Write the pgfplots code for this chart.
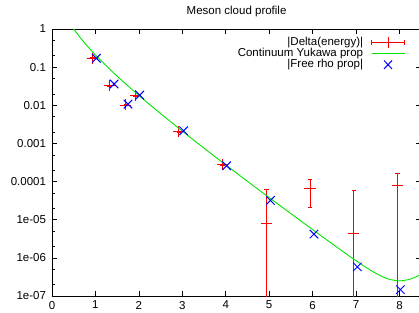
\documentclass[border=0pt]{standalone}
\usepackage{pgfplots}
\pgfplotsset{compat=1.18}
\usepackage{pgfplotstable}
\usepackage{fontspec}
\setmainfont{Liberation Sans}
\definecolor{gpred}{rgb}{1,0,0}
\definecolor{gpgreen}{RGB}{0,230,0}
\definecolor{gpblue}{rgb}{0,0,1}

\pgfplotstableread{
x     y
1.02  0.171
1.43  0.036
1.75  0.0107
2.02  0.0184
3.03  0.00214
4.02  2.6e-4
5.03  3.2e-5
6.03  4.2e-6
7.03  5.8e-7
8.02  1.47e-7
}\freetab

\pgfplotstableread{
x     y
0.45  1.216
0.50  1.002
0.60  0.7012
0.70  0.5046
0.80  0.3706
0.90  0.2765
1.00  0.2089
1.25  0.1079
1.50  0.05806
1.75  0.03214
2.00  0.01816
2.25  0.01042
2.50  0.006055
2.75  0.003554
3.00  0.002104
3.25  0.001253
3.50  7.515e-4
3.75  4.529e-4
4.00  2.742e-4
4.25  1.666e-4
4.50  1.016e-4
4.75  6.214e-5
5.00  3.811e-5
5.25  2.343e-5
5.50  1.444e-5
5.75  8.917e-6
6.00  5.524e-6
6.25  3.425e-6
6.50  2.132e-6
6.75  1.332e-6
7.00  8.41e-7
7.25  5.43e-7
7.50  3.69e-7
7.75  2.78e-7
8.00  2.50e-7
8.25  2.78e-7
8.50  3.69e-7
}\yukawatab

\begin{document}
\fontsize{11.5pt}{13pt}\selectfont
\begin{tikzpicture}
\begin{axis}[
  scale only axis,
  width=369.2pt, height=267pt,
  xmin=0, xmax=8.5,
  ymode=log, ymin=1e-7, ymax=1,
  log basis y=10,
  xtick={0,1,2,3,4,5,6,7,8},
  ytick={1,0.1,0.01,0.001,0.0001,1e-5,1e-6,1e-7},
  yticklabels={1,0.1,0.01,0.001,0.0001,1e-05,1e-06,1e-07},
  minor ytick={2e-7,5e-7,2e-6,5e-6,2e-5,5e-5,2e-4,5e-4,2e-3,5e-3,2e-2,5e-2,0.2,0.5},
  tick align=inside,
  major tick length=5pt,
  minor tick length=2.5pt,
  tick style={draw=black, line width=0.6pt},
  axis line style={draw=black, line width=0.8pt},
  /pgf/number format/assume math mode=true,
  tick label style={font=\fontsize{11.5pt}{13pt}\selectfont},
  yticklabel style={xshift=-2pt},
  xticklabel style={yshift=-1pt},
  title={Meson cloud profile},
  title style={font=\fontsize{11.5pt}{13pt}\selectfont, yshift=2pt},
  legend plot pos=right,
  legend cell align=right,
  legend style={at={(rel axis cs:1,1)}, anchor=north east, xshift=-13pt, yshift=-5pt,
    draw=none, fill=none, font=\fontsize{11.5pt}{13pt}\selectfont,
    row sep=0pt, column sep=8pt,
    nodes={inner sep=0pt, text height=8.3pt, text depth=2.7pt}},
  clip=true,
  unbounded coords=jump,
]
% |Delta(energy)|: vertical error bars, caps and + point symbols, one path
\addplot[draw=gpred, line width=0.9pt, no marks,
  /pgfplots/legend image code/.code={
    \draw[draw=gpred, line width=0.9pt] (0pt,0pt) -- (33pt,0pt);
    \draw[draw=gpred, line width=0.9pt] (0pt,-2.5pt) -- (0pt,2.5pt) (33pt,-2.5pt) -- (33pt,2.5pt);
    \draw[draw=gpred, line width=1pt] (16.5pt,-5.5pt) -- (16.5pt,5.5pt) (11pt,0pt) -- (22pt,0pt);
  }]
  coordinates {
    (0.93,0.167) (0.93,0.175) (0,nan) (0.877,0.175) (0.983,0.175) (0,nan) (0.877,0.167) (0.983,0.167) (0,nan)
    (0.803,0.171) (1.057,0.171) (0,nan) (0.93,0.1228) (0.93,0.2382) (0,nan)
    (1.33,0.0320) (1.33,0.0336) (0,nan) (1.277,0.0336) (1.383,0.0336) (0,nan) (1.277,0.0320) (1.383,0.0320) (0,nan)
    (1.203,0.0328) (1.457,0.0328) (0,nan) (1.33,0.02355) (1.33,0.04569) (0,nan)
    (1.70,0.0099) (1.70,0.0105) (0,nan) (1.647,0.0105) (1.753,0.0105) (0,nan) (1.647,0.0099) (1.753,0.0099) (0,nan)
    (1.573,0.0102) (1.827,0.0102) (0,nan) (1.70,0.007322) (1.70,0.01421) (0,nan)
    (1.92,0.0171) (1.92,0.0181) (0,nan) (1.867,0.0181) (1.973,0.0181) (0,nan) (1.867,0.0171) (1.973,0.0171) (0,nan)
    (1.793,0.0176) (2.047,0.0176) (0,nan) (1.92,0.01263) (1.92,0.02452) (0,nan)
    (2.92,0.00199) (2.92,0.00211) (0,nan) (2.867,0.00211) (2.973,0.00211) (0,nan) (2.867,0.00199) (2.973,0.00199) (0,nan)
    (2.793,0.00205) (3.047,0.00205) (0,nan) (2.92,0.001472) (2.92,0.002856) (0,nan)
    (3.93,2.65e-4) (3.93,2.85e-4) (0,nan) (3.877,2.85e-4) (3.983,2.85e-4) (0,nan) (3.877,2.65e-4) (3.983,2.65e-4) (0,nan)
    (3.803,2.75e-4) (4.057,2.75e-4) (0,nan) (3.93,1.974e-4) (3.93,3.831e-4) (0,nan)
    (4.94,1e-8) (4.94,6.36e-5) (0,nan) (4.887,6.36e-5) (4.993,6.36e-5) (0,nan)
    (4.813,7.9e-6) (5.067,7.9e-6) (0,nan) (4.94,5.671e-6) (4.94,1.1e-5) (0,nan)
    (5.94,2.05e-5) (5.94,1.135e-4) (0,nan) (5.887,1.135e-4) (5.993,1.135e-4) (0,nan) (5.887,2.05e-5) (5.993,2.05e-5) (0,nan)
    (5.813,6.7e-5) (6.067,6.7e-5) (0,nan) (5.94,4.81e-5) (5.94,9.333e-5) (0,nan)
    (6.95,1e-8) (6.95,5.85e-5) (0,nan) (6.897,5.85e-5) (7.003,5.85e-5) (0,nan)
    (6.823,4.47e-6) (7.077,4.47e-6) (0,nan) (6.95,3.209e-6) (6.95,6.227e-6) (0,nan)
    (7.96,1e-8) (7.96,1.6e-4) (0,nan) (7.907,1.6e-4) (8.013,1.6e-4) (0,nan)
    (7.833,7.9e-5) (8.087,7.9e-5) (0,nan) (7.96,5.671e-5) (7.96,1.1e-4)
  };
\addlegendentry{|Delta(energy)|}

\addplot[draw=gpgreen, line width=0.9pt, no marks, smooth,
  /pgfplots/legend image code/.code={
    \draw[draw=gpgreen, line width=0.9pt] (0pt,0pt) -- (33pt,0pt);
  }]
  table[x=x, y=y] {\yukawatab};
\addlegendentry{Continuum Yukawa prop}

\addplot[draw=gpblue, only marks, mark=x, mark size=6pt,
  mark options={draw=gpblue, line width=1pt},
  /pgfplots/legend image code/.code={
    \draw[draw=gpblue, line width=1pt] (12.5pt,-4.2pt) -- (20.5pt,4.2pt) (12.5pt,4.2pt) -- (20.5pt,-4.2pt);
  }]
  table[x=x, y=y] {\freetab};
\addlegendentry{|Free rho prop|}
\end{axis}
\pgfresetboundingbox
\useasboundingbox ([xshift=-52pt,yshift=-16pt]current axis.south west) rectangle ([xshift=-2.2pt,yshift=29pt]current axis.north east);
\end{tikzpicture}
\end{document}
